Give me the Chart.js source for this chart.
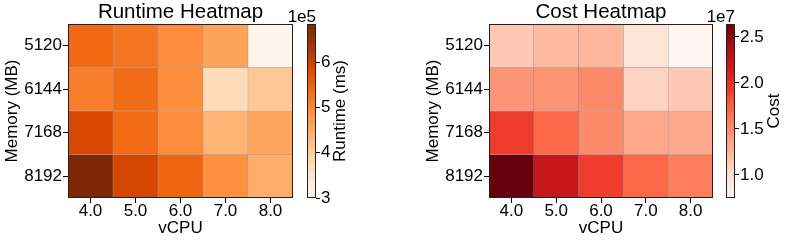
<!DOCTYPE html>
<html><head><meta charset="utf-8">
<script src="https://cdn.jsdelivr.net/npm/chart.js@4.4.1/dist/chart.umd.min.js"></script>
<style>
html,body{margin:0;padding:0;background:#fff;}
#wrap{position:relative;width:789px;height:243px;overflow:hidden;background:#fff;}
.box{position:absolute;top:0;height:243px;}
canvas{display:block;}
</style></head><body>
<div id="wrap">
<div class="box" style="left:0px;width:293px"><canvas id="h1" width="293" height="243"></canvas></div>
<div class="box" style="left:280px;width:80px"><canvas id="cb1" width="80" height="243"></canvas></div>
<div class="box" style="left:421px;width:292px"><canvas id="h2" width="292" height="243"></canvas></div>
<div class="box" style="left:700px;width:89px"><canvas id="cb2" width="89" height="243"></canvas></div>
</div>
<script>
// ---- data ----
const memory = ['5120', '6144', '7168', '8192'];
const vcpu = ['4.0', '5.0', '6.0', '7.0', '8.0'];
// Runtime (ms), rows follow memory order
const runtime5120 = [540000, 523000, 492000, 462000, 300000];
const runtime6144 = [512000, 535000, 490000, 370000, 407000];
const runtime7168 = [588000, 538000, 492000, 435000, 458000];
const runtime8192 = [684000, 592000, 546000, 488000, 446000];
// Cost
const cost5120 = [11300000, 12300000, 12500000, 9500000, 7500000];
const cost6144 = [14400000, 14500000, 15100000, 10600000, 11300000];
const cost7168 = [19300000, 17000000, 15100000, 13400000, 13300000];
const cost8192 = [26400000, 22000000, 19200000, 17000000, 15800000];
// colorbar tick labels
const runtimeTicks = [300000, 400000, 500000, 600000];
const runtimeTickLabels = ['3', '4', '5', '6'];
const costTicks = [10000000, 15000000, 20000000, 25000000];
const costTickLabels = ['1.0', '1.5', '2.0', '2.5'];

const runtimeRows = [runtime5120, runtime6144, runtime7168, runtime8192];
const costRows = [cost5120, cost6144, cost7168, cost8192];

// ---- colormaps ----
const ORANGES = ['#fff5eb','#fee6ce','#fdd0a2','#fdae6b','#fd8d3c','#f16913','#d94801','#a63603','#7f2704'];
const REDS = ['#fff5f0','#fee0d2','#fcbba1','#fc9272','#fb6a4a','#ef3b2c','#cb181d','#a50f15','#67000d'];
function hx(h){return [parseInt(h.slice(1,3),16),parseInt(h.slice(3,5),16),parseInt(h.slice(5,7),16)];}
function cmap(stops, t){
  t = Math.max(0, Math.min(1, t));
  const n = stops.length - 1, p = t * n;
  const i = Math.min(Math.floor(p), n - 1), f = p - i;
  const a = hx(stops[i]), b = hx(stops[i+1]);
  return 'rgb(' + a.map((v,k)=>Math.round(v + (b[k]-v)*f)).join(',') + ')';
}

const FONT = "'Liberation Sans', Arial, sans-serif";
const BLACK = '#000';

const framePlugin = {
  id: 'frame',
  afterDatasetsDraw(chart) {
    const a = chart.chartArea, c = chart.ctx;
    c.save(); c.strokeStyle = '#222'; c.lineWidth = 1;
    c.strokeRect(Math.round(a.left)+0.5, Math.round(a.top)+0.5, Math.round(a.right-a.left)-1, Math.round(a.bottom-a.top)-1);
    c.restore();
  }
};

const cbTextPlugin = {
  id: 'cbText',
  afterDraw(chart, args, opts) {
    const a = chart.chartArea, c = chart.ctx;
    c.save();
    c.fillStyle = BLACK;
    c.font = '17px ' + FONT;
    c.textAlign = 'right'; c.textBaseline = 'alphabetic';
    c.fillText(opts.offsetText, a.right, a.top - 2);
    c.translate(opts.labelX, (a.top + a.bottom) / 2);
    c.rotate(-Math.PI / 2);
    c.textAlign = 'center'; c.textBaseline = 'middle';
    c.fillText(opts.label, 0, 0);
    c.restore();
  }
};

function heatmap(id, title, rows, stops, yWidth) {
  const flat = rows.flat();
  const vmin = Math.min(...flat), vmax = Math.max(...flat);
  const datasets = rows.map((row, i) => ({
    label: memory[i],
    data: row.map(() => 1),
    backgroundColor: row.map(v => cmap(stops, (v - vmin) / (vmax - vmin))),
    borderColor: 'rgba(40,40,40,0.4)',
    borderWidth: 0.5,
    borderSkipped: false,
    barPercentage: 1,
    categoryPercentage: 1
  }));
  new Chart(document.getElementById(id), {
    type: 'bar',
    data: { labels: vcpu, datasets },
    plugins: [framePlugin],
    options: {
      responsive: false, animation: false,
      layout: { padding: 0 },
      plugins: {
        legend: { display: false }, tooltip: { enabled: false },
        title: { display: true, fullSize: false, text: title, color: BLACK, padding: {top: 0, bottom: 0},
                 font: { family: FONT, size: 20.5, weight: 'normal', lineHeight: '24px' } }
      },
      scales: {
        x: {
          stacked: true,
          grid: { display: true, drawOnChartArea: false, drawTicks: true, tickLength: 5, color: BLACK, offset: false },
          border: { display: false },
          ticks: { color: BLACK, font: { family: FONT, size: 17, lineHeight: 1 }, padding: 0, maxRotation: 0 },
          title: { display: true, text: 'vCPU', color: BLACK, padding: {top: 0, bottom: 4},
                   font: { family: FONT, size: 17, lineHeight: 1.2 } },
          afterFit: s => { s.height = 45; }
        },
        y: {
          stacked: true, reverse: true, min: 0, max: memory.length,
          grid: { display: true, drawOnChartArea: false, drawTicks: true, tickLength: 5, color: BLACK },
          border: { display: false },
          afterBuildTicks: s => { s.ticks = memory.map((m, i) => ({ value: i + 0.5 })); },
          ticks: { color: BLACK, font: { family: FONT, size: 17 }, padding: 1,
                   callback: (v, i) => memory[i] },
          title: { display: true, text: 'Memory (MB)', color: BLACK, padding: {top: 2, bottom: 0},
                   font: { family: FONT, size: 17, lineHeight: 1.2 } },
          afterFit: s => { s.width = yWidth; }
        }
      }
    }
  });
}

function colorbar(id, rows, stops, ticks, tickLabels, label, offsetText, padLeft, axisWidth, labelX) {
  const flat = rows.flat();
  const vmin = Math.min(...flat), vmax = Math.max(...flat);
  new Chart(document.getElementById(id), {
    type: 'bar',
    data: { labels: [''], datasets: [{
      data: [[vmin, vmax]],
      backgroundColor: ctx => {
        const a = ctx.chart.chartArea;
        if (!a) return stops[0];
        const g = ctx.chart.ctx.createLinearGradient(0, a.bottom, 0, a.top);
        stops.forEach((s, i) => g.addColorStop(i / (stops.length - 1), s));
        return g;
      },
      borderWidth: 0, barPercentage: 1, categoryPercentage: 1
    }]},
    plugins: [framePlugin, cbTextPlugin],
    options: {
      responsive: false, animation: false,
      layout: { padding: { left: padLeft, top: 24, bottom: 45, right: 0 } },
      plugins: { legend: { display: false }, tooltip: { enabled: false },
                 cbText: { label, offsetText, labelX } },
      scales: {
        x: { display: false },
        y: {
          position: 'right', min: vmin, max: vmax,
          grid: { display: true, drawOnChartArea: false, drawTicks: true, tickLength: 4, color: BLACK },
          border: { display: false },
          afterBuildTicks: s => { s.ticks = ticks.map(v => ({ value: v })); },
          ticks: { color: BLACK, font: { family: FONT, size: 17 }, padding: 1,
                   callback: (v, i) => tickLabels[i] },
          afterFit: s => { s.width = axisWidth; }
        }
      }
    }
  });
}

heatmap('h1', 'Runtime Heatmap', runtimeRows, ORANGES, 68);
colorbar('cb1', runtimeRows, ORANGES, runtimeTicks, runtimeTickLabels, 'Runtime (ms)', '1e5', 27, 44, 60);
heatmap('h2', 'Cost Heatmap', costRows, REDS, 68);
colorbar('cb2', costRows, REDS, costTicks, costTickLabels, 'Cost', '1e7', 26, 54, 74.5);
</script>
</body></html>
